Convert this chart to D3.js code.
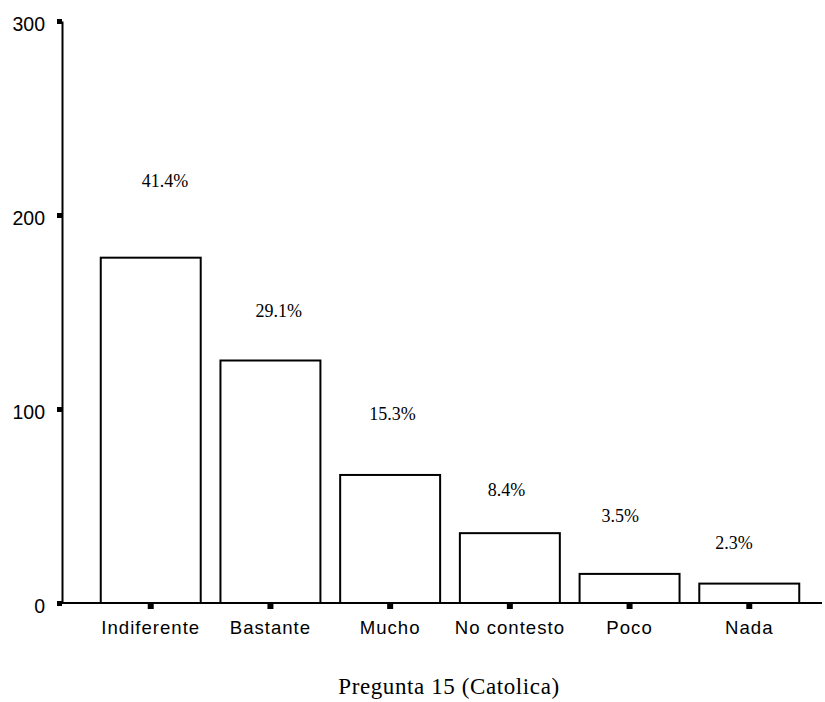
<!DOCTYPE html>
<html>
<head>
<meta charset="utf-8">
<script src="https://cdn.jsdelivr.net/npm/d3@7"></script>
<style>
    body { margin: 0; background: #fff; }
    svg { display: block; }
</style>
</head>
<body>
<div id="chart"></div>
<script>
// Data
const categories = ["Indiferente", "Bastante", "Mucho", "No contesto", "Poco", "Nada"];
const counts = [178, 125, 66, 36, 15, 10];
const percentLabels = ["41.4%", "29.1%", "15.3%", "8.4%", "3.5%", "2.3%"];
const yTicks = [0, 100, 200, 300];
const chartTitle = "Pregunta 15 (Catolica)";

// Layout: how far each percent label floats above its bar (px)
const labelLift = [71, 44, 55, 37, 52, 35];

function createBarChart() {
    const W = 825, H = 702;
    const axisX = 62, baseY = 603, topY = 21, rightX = 822;

    const svg = d3.select("#chart")
        .append("svg")
        .attr("width", W)
        .attr("height", H);

    // Scales
    const xScale = d3.scaleBand()
        .domain(categories)
        .range([81, 819])
        .paddingInner(0.165)
        .paddingOuter(0.165);

    // percent labels sit on their own slightly tighter spacing
    const labelScale = d3.scalePoint()
        .domain(categories)
        .range([165, 734]);

    const yScale = d3.scaleLinear()
        .domain([0, 300])
        .range([baseY, topY]);

    // Bars
    svg.selectAll(".bar")
        .data(categories)
        .enter().append("rect")
        .attr("class", "bar")
        .attr("x", d => xScale(d))
        .attr("y", (d, i) => yScale(counts[i]))
        .attr("width", xScale.bandwidth())
        .attr("height", (d, i) => baseY - yScale(counts[i]))
        .attr("fill", "#fff")
        .attr("stroke", "#000")
        .attr("stroke-width", 2);

    // Y axis
    const yAxis = svg.append("g")
        .attr("transform", `translate(${axisX},0)`)
        .call(d3.axisLeft(yScale).tickValues(yTicks).tickSize(5).tickSizeOuter(0).tickPadding(12));
    yAxis.select(".domain").attr("stroke", "#000").attr("stroke-width", 2);
    yAxis.selectAll(".tick line").attr("stroke", "#000").attr("stroke-width", 5);
    yAxis.selectAll(".tick text")
        .attr("dy", "0.5em")
        .style("font-family", "'Liberation Sans', Arial, sans-serif")
        .style("font-size", "19.5px")
        .attr("fill", "#000");

    // X axis
    const xAxis = svg.append("g")
        .attr("transform", `translate(0,${baseY})`)
        .call(d3.axisBottom(xScale).tickSize(6).tickSizeOuter(0).tickPadding(12));
    xAxis.select(".domain").remove();
    xAxis.selectAll(".tick line").attr("stroke", "#000").attr("stroke-width", 6);
    xAxis.selectAll(".tick text")
        .style("font-family", "'Liberation Sans', Arial, sans-serif")
        .style("font-size", "18.6px")
        .style("letter-spacing", "1px")
        .attr("fill", "#000");

    svg.append("line")
        .attr("x1", axisX - 1)
        .attr("x2", rightX)
        .attr("y1", baseY)
        .attr("y2", baseY)
        .attr("stroke", "#000")
        .attr("stroke-width", 2);

    // Percent labels
    svg.selectAll(".bar-number")
        .data(categories)
        .enter().append("text")
        .attr("class", "bar-number")
        .attr("x", d => labelScale(d))
        .attr("y", (d, i) => yScale(counts[i]) - labelLift[i])
        .attr("text-anchor", "middle")
        .style("font-family", "'Liberation Serif', 'Times New Roman', serif")
        .style("font-size", "18px")
        .text((d, i) => percentLabels[i]);

    // Title under the chart
    svg.append("text")
        .attr("x", 449)
        .attr("y", 694)
        .attr("text-anchor", "middle")
        .style("font-family", "'Liberation Serif', 'Times New Roman', serif")
        .style("font-size", "23px")
        .style("letter-spacing", "0.6px")
        .text(chartTitle);
}

createBarChart();
</script>
</body>
</html>
